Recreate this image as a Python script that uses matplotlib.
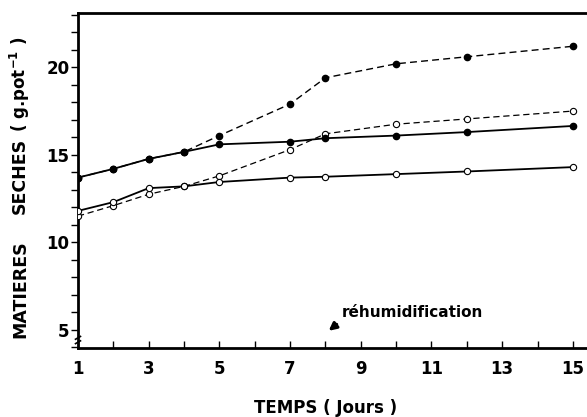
import matplotlib
matplotlib.use("Agg")
import matplotlib.pyplot as plt
from matplotlib.ticker import MultipleLocator, FixedLocator

days = [1, 2, 3, 4, 5, 7, 8, 10, 12, 15]
filled_solid = [13.7, 14.2, 14.77, 15.17, 15.6, 15.75, 15.95, 16.1, 16.3, 16.65]
filled_dashed = [13.7, 14.2, 14.77, 15.17, 16.1, 17.9, 19.4, 20.2, 20.6, 21.2]
open_solid = [11.8, 12.3, 13.1, 13.2, 13.45, 13.7, 13.75, 13.9, 14.05, 14.3]
open_dashed = [11.5, 12.1, 12.75, 13.2, 13.8, 15.3, 16.2, 16.75, 17.05, 17.5]
x_ticklabels = ["1", "3", "5", "7", "9", "11", "13", "15"]
y_ticklabels = ["5", "10", "15", "20"]

plt.rcParams['font.family'] = ['DejaVu Sans']
fig = plt.figure(figsize=(5.87, 4.17), dpi=100)
ax = fig.add_axes([78/587, 1-348/417, 1-78/587, (348-13)/417])

ax.plot(days, filled_dashed, color='black', lw=1.0, ls=(0, (5, 3)), marker='o',
        ms=4.5, mfc='black', mec='black', zorder=3)
ax.plot(days, open_dashed, color='black', lw=0.9, ls=(0, (5, 3)), marker='o',
        ms=4.5, mfc='white', mec='black', mew=0.8, zorder=3)
ax.plot(days, filled_solid, color='black', lw=1.3, marker='o',
        ms=4.5, mfc='black', mec='black', zorder=4)
ax.plot(days, open_solid, color='black', lw=1.3, marker='o',
        ms=4.5, mfc='white', mec='black', mew=0.8, zorder=4)

ax.set_xlim(1, 15.4)
ax.set_ylim(3.97, 23.1)

ax.spines['right'].set_visible(False)
for s in ['left', 'top', 'bottom']:
    ax.spines[s].set_linewidth(2.0)

ax.xaxis.set_major_locator(FixedLocator([1, 3, 5, 7, 9, 11, 13, 15]))
ax.set_xticklabels(x_ticklabels, fontsize=12, fontweight='bold')
ax.xaxis.set_minor_locator(MultipleLocator(1))
ax.tick_params(axis='x', which='both', direction='in', length=5, width=1, pad=9)

ax.yaxis.set_major_locator(FixedLocator([5, 10, 15, 20]))
ax.set_yticklabels(y_ticklabels, fontsize=12, fontweight='bold')
ax.yaxis.set_minor_locator(MultipleLocator(1))
ax.tick_params(axis='y', which='both', direction='out', length=5, width=1, pad=1)

# axis break mark on y axis
for yy in (4.3, 4.55):
    ax.plot([0.93, 1.07], [yy - 0.08, yy + 0.08], color='black', lw=1.2,
            clip_on=False, zorder=5)

ax.text(8.47, 5.75, "réhumidification", fontsize=11, fontweight='bold',
        va='baseline')
ax.annotate("", xy=(8.03, 4.85), xytext=(8.38, 5.42),
            arrowprops=dict(arrowstyle='-|>', color='black', lw=2.2,
                            mutation_scale=11))

fig.text(20/587, 1-289/417, "MATIERES", rotation=90, ha='center', va='center',
         fontsize=12.5, fontweight='bold')
fig.text(20/587, 1-176/417, "SECHES", rotation=90, ha='center', va='center',
         fontsize=12.5, fontweight='bold')
fig.text(20/587, 1-84/417, r"( g.pot$^{\mathbf{-1}}$ )", rotation=90,
         ha='center', va='center', fontsize=12, fontweight='bold')
fig.text(326/587, 1-408/417, "TEMPS ( Jours )", ha='center', va='center',
         fontsize=12, fontweight='bold')

fig.savefig("out.png", dpi=100)
